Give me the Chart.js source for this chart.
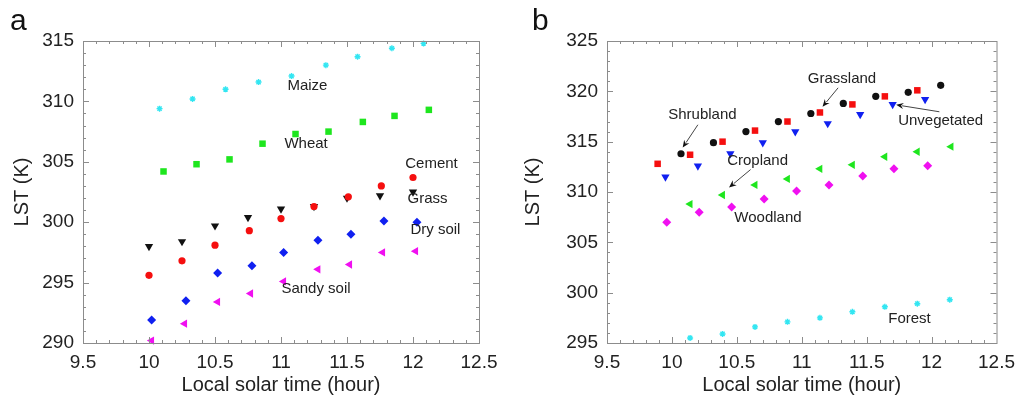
<!DOCTYPE html>
<html>
<head>
<meta charset="utf-8">
<script src="https://cdn.jsdelivr.net/npm/chart.js@4/dist/chart.umd.min.js"></script>
<style>
  html, body { margin: 0; padding: 0; background: #fff; }
  #wrap { position: relative; width: 1023px; height: 399px; overflow: hidden; }
  .panel { position: absolute; top: 0; height: 399px; }
  #pa { left: 0; width: 511px; }
  #pb { left: 511px; width: 512px; }
  .tag { position: absolute; font: 30px "Liberation Sans", Arial, sans-serif; color: #111; }
</style>
</head>
<body>
<div id="wrap">
  <div class="panel" id="pa"><canvas id="chartA"></canvas></div>
  <div class="panel" id="pb"><canvas id="chartB"></canvas></div>
  <div class="tag" style="left:10px; top:3px;">a</div>
  <div class="tag" style="left:532px; top:3px;">b</div>
</div>
<script>
// panel a: surface types
const timeMaize = [10.08, 10.33, 10.58, 10.83, 11.08, 11.34, 11.58, 11.84, 12.08];
const lstMaize = [309.4, 310.2, 311.0, 311.6, 312.1, 313.0, 313.7, 314.4, 314.8];
const timeWheat = [10.11, 10.36, 10.61, 10.86, 11.11, 11.36, 11.62, 11.86, 12.12];
const lstWheat = [304.2, 304.8, 305.2, 306.5, 307.3, 307.5, 308.3, 308.8, 309.3];
const timeCement = [10.0, 10.25, 10.5, 10.76, 11.0, 11.25, 11.51, 11.76, 12.0];
const lstCement = [295.6, 296.8, 298.1, 299.3, 300.3, 301.3, 302.1, 303.0, 303.7];
const timeGrass = [10.0, 10.25, 10.5, 10.75, 11.0, 11.25, 11.5, 11.75, 12.0];
const lstGrass = [298.0, 298.4, 299.7, 300.4, 301.1, 301.3, 302.0, 302.2, 302.5];
const timeDry = [10.02, 10.28, 10.52, 10.78, 11.02, 11.28, 11.53, 11.78, 12.03];
const lstDry = [291.9, 293.5, 295.8, 296.4, 297.5, 298.5, 299.0, 300.1, 300.0];
const timeSandy = [10.02, 10.27, 10.52, 10.77, 11.02, 11.28, 11.52, 11.77, 12.02];
const lstSandy = [290.2, 291.6, 293.4, 294.1, 295.1, 296.1, 296.5, 297.5, 297.6];

// panel b: land cover
const timeShrub = [10.07, 10.32, 10.57, 10.82, 11.07, 11.32, 11.57, 11.82, 12.07];
const lstShrub = [313.8, 314.9, 316.0, 317.0, 317.8, 318.8, 319.5, 319.9, 320.6];
const timeGrassland = [9.89, 10.14, 10.39, 10.64, 10.89, 11.14, 11.39, 11.64, 11.89];
const lstGrassland = [312.8, 313.7, 315.0, 316.1, 317.0, 317.9, 318.7, 319.5, 320.1];
const timeUnveg = [9.95, 10.2, 10.45, 10.7, 10.95, 11.2, 11.45, 11.7, 11.95];
const lstUnveg = [311.5, 312.6, 313.8, 314.9, 316.0, 316.8, 317.7, 318.7, 319.2];
const timeCrop = [10.14, 10.39, 10.64, 10.89, 11.14, 11.39, 11.64, 11.89, 12.15];
const lstCrop = [308.8, 309.7, 310.7, 311.3, 312.3, 312.7, 313.5, 314.0, 314.5];
const timeWood = [9.96, 10.21, 10.46, 10.71, 10.96, 11.21, 11.47, 11.71, 11.97];
const lstWood = [307.0, 308.0, 308.5, 309.3, 310.1, 310.7, 311.6, 312.3, 312.6];
const timeForest = [10.14, 10.39, 10.64, 10.89, 11.14, 11.39, 11.64, 11.89, 12.14];
const lstForest = [295.5, 295.9, 296.6, 297.1, 297.5, 298.1, 298.6, 298.9, 299.3];

const FONT = '"Liberation Sans", Arial, sans-serif';

function pts(xs, ys) {
  return xs.map((x, i) => ({ x: x, y: ys[i] }));
}

function series(label, xs, ys, color, style, radius, rotation) {
  return {
    label: label,
    data: pts(xs, ys),
    pointStyle: style,
    pointRadius: radius,
    pointRotation: rotation || 0,
    backgroundColor: color,
    borderColor: color,
    borderWidth: style === 'star' ? 1.4 : 0,
    clip: false
  };
}

// box frame with inward major/minor ticks on all four sides
const frameTicks = {
  id: 'frameTicks',
  afterDatasetsDraw(chart, args, opts) {
    const { ctx, chartArea: a, scales } = chart;
    ctx.save();
    ctx.strokeStyle = '#8c8c8c';
    ctx.lineWidth = 1;
    ctx.strokeRect(a.left + 0.5, a.top + 0.5, a.right - a.left, a.bottom - a.top);
    ctx.beginPath();
    const xs = scales.x, ys = scales.y;
    let n = Math.round((xs.max - xs.min) / opts.xMinor);
    let every = Math.round(opts.xMajor / opts.xMinor);
    for (let i = 1; i < n; i++) {
      const px = Math.round(xs.getPixelForValue(xs.min + i * opts.xMinor)) + 0.5;
      const len = i % every === 0 ? 6 : 3;
      ctx.moveTo(px, a.bottom); ctx.lineTo(px, a.bottom - len);
      ctx.moveTo(px, a.top); ctx.lineTo(px, a.top + len);
    }
    n = Math.round((ys.max - ys.min) / opts.yMinor);
    every = Math.round(opts.yMajor / opts.yMinor);
    for (let i = 1; i < n; i++) {
      const py = Math.round(ys.getPixelForValue(ys.min + i * opts.yMinor)) + 0.5;
      const len = i % every === 0 ? 6 : 3;
      ctx.moveTo(a.left, py); ctx.lineTo(a.left + len, py);
      ctx.moveTo(a.right, py); ctx.lineTo(a.right - len, py);
    }
    ctx.stroke();
    ctx.restore();
  }
};

// text labels and arrows placed in data units
const notes = {
  id: 'notes',
  afterDatasetsDraw(chart, args, opts) {
    const { ctx, scales: { x, y } } = chart;
    ctx.save();
    ctx.font = '15px ' + FONT;
    ctx.fillStyle = '#222';
    ctx.textAlign = 'center';
    ctx.textBaseline = 'middle';
    (opts.labels || []).forEach(l => {
      ctx.fillText(l.text, x.getPixelForValue(l.x), y.getPixelForValue(l.y));
    });
    ctx.strokeStyle = '#444';
    ctx.fillStyle = '#111';
    ctx.lineWidth = 1;
    (opts.arrows || []).forEach(ar => {
      const x0 = x.getPixelForValue(ar.from[0]), y0 = y.getPixelForValue(ar.from[1]);
      const x1 = x.getPixelForValue(ar.to[0]), y1 = y.getPixelForValue(ar.to[1]);
      const ang = Math.atan2(y1 - y0, x1 - x0);
      ctx.beginPath();
      ctx.moveTo(x0, y0);
      ctx.lineTo(x1 - 6 * Math.cos(ang), y1 - 6 * Math.sin(ang));
      ctx.stroke();
      ctx.beginPath();
      ctx.moveTo(x1, y1);
      ctx.lineTo(x1 - 8 * Math.cos(ang - 0.4), y1 - 8 * Math.sin(ang - 0.4));
      ctx.lineTo(x1 - 5 * Math.cos(ang), y1 - 5 * Math.sin(ang));
      ctx.lineTo(x1 - 8 * Math.cos(ang + 0.4), y1 - 8 * Math.sin(ang + 0.4));
      ctx.closePath();
      ctx.fill();
    });
    ctx.restore();
  }
};

function makeChart(id, datasets, yMin, yMax, axisW, rightPad, noteOpts) {
  return new Chart(document.getElementById(id), {
    type: 'scatter',
    data: { datasets: datasets },
    plugins: [frameTicks, notes],
    options: {
      responsive: true,
      maintainAspectRatio: false,
      animation: false,
      layout: { padding: { top: 41, right: rightPad, left: 0, bottom: 0 } },
      plugins: {
        legend: { display: false },
        tooltip: { enabled: false },
        frameTicks: { xMinor: 0.1, xMajor: 0.5, yMinor: 1, yMajor: 5 },
        notes: noteOpts
      },
      scales: {
        x: {
          type: 'linear', min: 9.5, max: 12.5,
          grid: { display: false, drawTicks: false },
          border: { display: false },
          ticks: { stepSize: 0.5, padding: 8, color: '#222', font: { family: FONT, size: 19 },
                   callback: v => String(+v.toFixed(1)) },
          title: { display: true, text: 'Local solar time (hour)', color: '#222',
                   font: { family: FONT, size: 20 }, padding: { top: 0, bottom: 2 } },
          afterFit: s => { s.height = 56; }
        },
        y: {
          type: 'linear', min: yMin, max: yMax,
          grid: { display: false, drawTicks: false },
          border: { display: false },
          ticks: { stepSize: 5, padding: 9, color: '#222', font: { family: FONT, size: 19 } },
          title: { display: true, text: 'LST (K)', color: '#222',
                   font: { family: FONT, size: 20 }, padding: { top: 10, bottom: 0 } },
          afterFit: s => { s.width = axisW; }
        }
      }
    }
  });
}

makeChart('chartA', [
  series('Maize', timeMaize, lstMaize, '#33e6f2', 'star', 3),
  series('Wheat', timeWheat, lstWheat, '#1ee61e', 'rect', 4.6),
  series('Cement', timeCement, lstCement, '#f50f0f', 'circle', 3.6),
  series('Grass', timeGrass, lstGrass, '#111111', 'triangle', 4.8, 180),
  series('Dry soil', timeDry, lstDry, '#1020f0', 'rectRot', 4.5),
  series('Sandy soil', timeSandy, lstSandy, '#f010f0', 'triangle', 4.8, 270)
], 290, 315, 83, 32, {
  labels: [
    { text: 'Maize', x: 11.2, y: 311.27 },
    { text: 'Wheat', x: 11.19, y: 306.47 },
    { text: 'Cement', x: 12.14, y: 304.8 },
    { text: 'Grass', x: 12.11, y: 301.92 },
    { text: 'Dry soil', x: 12.17, y: 299.35 },
    { text: 'Sandy soil', x: 11.265, y: 294.47 }
  ]
});

makeChart('chartB', [
  series('Shrubland', timeShrub, lstShrub, '#111111', 'circle', 3.6),
  series('Grassland', timeGrassland, lstGrassland, '#f50f0f', 'rect', 4.6),
  series('Unvegetated', timeUnveg, lstUnveg, '#1020f0', 'triangle', 4.8, 180),
  series('Cropland', timeCrop, lstCrop, '#1ee61e', 'triangle', 4.8, 270),
  series('Woodland', timeWood, lstWood, '#f010f0', 'rectRot', 4.5),
  series('Forest', timeForest, lstForest, '#33e6f2', 'star', 3)
], 295, 325, 96, 20, {
  labels: [
    { text: 'Shrubland', x: 10.235, y: 317.67 },
    { text: 'Grassland', x: 11.31, y: 321.24 },
    { text: 'Unvegetated', x: 12.07, y: 317.08 },
    { text: 'Cropland', x: 10.66, y: 313.12 },
    { text: 'Woodland', x: 10.74, y: 307.48 },
    { text: 'Forest', x: 11.83, y: 297.38 }
  ],
  arrows: [
    { from: [10.2, 316.68], to: [10.083, 314.41] },
    { from: [11.28, 320.35], to: [11.16, 318.47] },
    { from: [12.06, 317.97], to: [11.727, 318.66] },
    { from: [10.606, 312.23], to: [10.44, 310.45] }
  ]
});
</script>
</body>
</html>
